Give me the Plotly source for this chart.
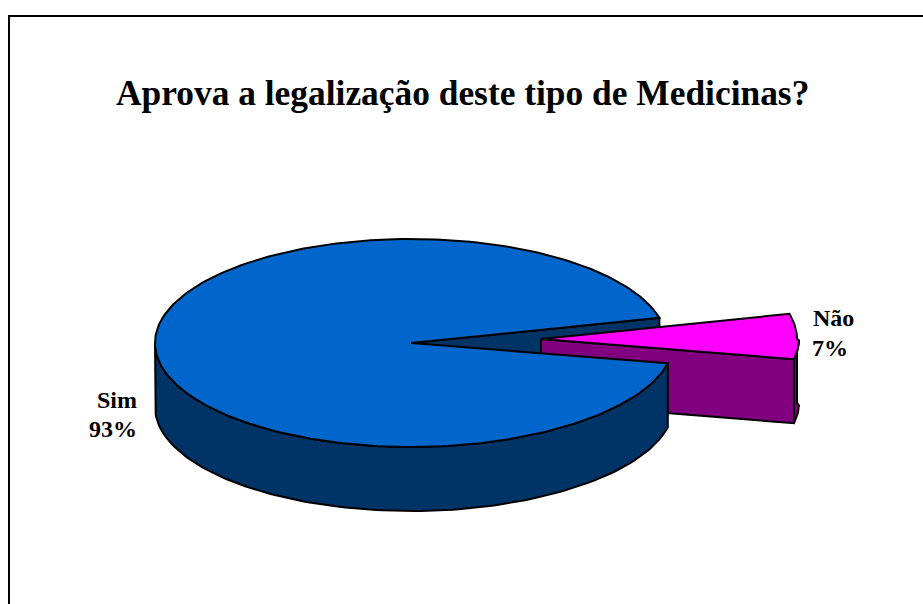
import numpy as np
import plotly.graph_objects as go

categories = ["Sim", "Não"]
values = [93, 7]
percent_labels = ["93%", "7%"]
title_text = "Aprova a legalização deste tipo de Medicinas?"

TOP, DARK, PINK, PURPLE = "#0066CC", "#003366", "#FF00FF", "#800080"
CX, CY, RX, RY, DEPTH = 411, 343, 256, 104, 64
EXPLODE_X, EXPLODE_Y = 130, -4
START_DEG = 14

total = sum(values)
slice_deg = 360 * values[1] / total
a_hi = START_DEG
a_lo = START_DEG - slice_deg


def rim(deg, cx, cy, extra=0.0):
    t = np.radians(deg)
    # the lower-right rim sits slightly further out, as in the drawn perspective
    rx = RX + extra * np.where(np.sin(t) < 0, np.clip(np.cos(t), 0, 1) ** 2, 0)
    return cx + rx * np.cos(t), cy - RY * np.sin(t)


def poly(xs, ys, fill):
    return go.Scatter(x=np.round(xs, 2), y=np.round(ys, 2), mode="lines", fill="toself", fillcolor=fill,
                      line=dict(color="black", width=2), hoverinfo="skip", showlegend=False)


fig = go.Figure()
sx, sy = CX + EXPLODE_X, CY + EXPLODE_Y

# wall of the big slice inside the cut
ux, uy = rim(a_hi, CX, CY)
fig.add_trace(poly([CX, ux, ux, CX, CX], [CY, uy, uy + DEPTH, CY + DEPTH, CY], DARK))

# small slice: rim wall, cut wall, top
arc = np.linspace(a_hi, a_lo, 30)
ax, ay = rim(arc, sx, sy, 2)
front = np.linspace(0, a_lo, 10)
fx, fy = rim(front, sx, sy, 2)
fig.add_trace(poly(np.r_[fx, fx[::-1], fx[0]], np.r_[fy, fy[::-1] + DEPTH, fy[0]], PURPLE))
fig.add_trace(poly([sx, ax[-1], ax[-1], sx, sx], [sy, ay[-1], ay[-1] + DEPTH, sy + DEPTH, sy], PURPLE))
fig.add_trace(poly(np.r_[sx, ax, sx], np.r_[sy, ay, sy], PINK))

# big slice: outer wall, then top
wall = np.linspace(a_lo, -180, 120)
wx, wy = rim(wall, CX, CY, 6)
fig.add_trace(poly(np.r_[wx, wx[::-1], wx[0]], np.r_[wy, wy[::-1] + DEPTH, wy[0]], DARK))
top_arc = np.linspace(a_hi, a_hi + 360 - slice_deg, 300)
tx, ty = rim(top_arc, CX, CY, 6)
fig.add_trace(poly(np.r_[CX, tx, CX], np.r_[CY, ty, CY], TOP))

label_font = dict(family="Liberation Serif", size=24, color="black")
annotations = [
    dict(x=462.5, y=93, text="<b>" + title_text + "</b>", font=dict(family="Liberation Serif", size=35.4, color="black")),
    dict(x=116.5, y=400, text="<b>" + categories[0] + "</b>", font=label_font),
    dict(x=112.5, y=429, text="<b>" + percent_labels[0] + "</b>", font=label_font),
    dict(x=833, y=318, text="<b>" + categories[1] + "</b>", font=label_font),
    dict(x=830, y=348, text="<b>" + percent_labels[1] + "</b>", font=label_font),
]
for a in annotations:
    a.update(xref="x", yref="y", showarrow=False, xanchor="center", yanchor="middle")

border = dict(color="black", width=2)
fig.update_layout(
    width=923, height=604, margin=dict(l=0, r=0, t=0, b=0), paper_bgcolor="white", plot_bgcolor="white",
    xaxis=dict(range=[0, 923], visible=False, fixedrange=True),
    yaxis=dict(range=[604, 0], visible=False, fixedrange=True),
    annotations=annotations,
    shapes=[
        dict(type="line", xref="x", yref="y", x0=9, y0=16, x1=923, y1=16, line=border),
        dict(type="line", xref="x", yref="y", x0=9, y0=15, x1=9, y1=604, line=border),
    ],
)
fig.write_html("out.html", config={"displayModeBar": False},
               post_script="document.body.style.margin='0';document.body.style.overflow='hidden';")
